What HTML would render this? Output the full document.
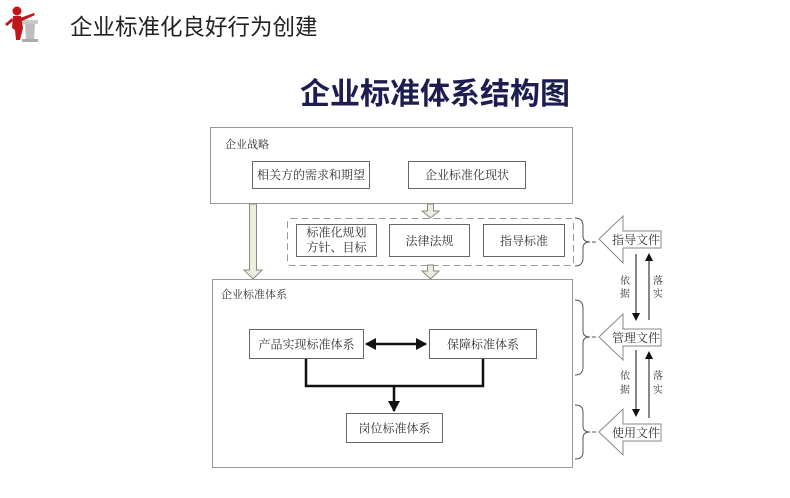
<!DOCTYPE html>
<html><head><meta charset="utf-8"><style>
html,body{margin:0;padding:0;background:#fff;}
svg{display:block;}
.s{font-family:"Noto Serif CJK SC","Liberation Serif",serif;fill:#333;}
</style></head><body>
<svg width="790" height="498" viewBox="0 0 790 498" xmlns="http://www.w3.org/2000/svg">
<defs>
<marker id="ah" markerWidth="8" markerHeight="8" refX="7" refY="4" orient="auto" markerUnits="userSpaceOnUse">
<path d="M0,0 L8,4 L0,8 Z" fill="#111"/></marker>
<marker id="tb" markerWidth="12" markerHeight="12" refX="10" refY="6" orient="auto-start-reverse" markerUnits="userSpaceOnUse">
<path d="M0,0 L11,6 L0,12 Z" fill="#111"/></marker>
</defs>

<!-- header icon -->
<g>
<rect x="22" y="20" width="16" height="4" fill="#c8c8c8"/>
<path d="M25,24 L35,24 L34,40 L26,40 Z" fill="#bdbdbd"/>
<rect x="22" y="39" width="16" height="3" fill="#aaa"/>
<circle cx="17" cy="11" r="4.5" fill="#c0161b"/>
<path d="M13,16 L21,16 L23,28 L20,40 L16,40 L15,30 L12,28 Z" fill="#c0161b"/>
<path d="M12,18 L5,24 L7,26 L13,21 Z" fill="#c0161b"/>
<path d="M20,18 L34,13 L35,15 L22,21 Z" fill="#c0161b"/>
</g>
<text x="70" y="35" font-family="'Liberation Sans','Noto Sans CJK SC',sans-serif" font-size="22.5" fill="#222">企业标准化良好行为创建</text>

<!-- main title -->
<text x="300" y="104" font-family="'Liberation Sans','Noto Sans CJK SC',sans-serif" font-size="30" font-weight="bold" fill="#1d1d52" textLength="270" lengthAdjust="spacingAndGlyphs">企业标准体系结构图</text>

<!-- 企业战略 box -->
<rect x="210.5" y="127.5" width="362" height="76" fill="#fff" stroke="#999" stroke-width="1"/>
<text class="s" x="225" y="148" font-size="11">企业战略</text>
<rect x="252.5" y="161.5" width="117" height="27" fill="#fff" stroke="#666"/>
<text class="s" x="311" y="179" font-size="12" text-anchor="middle">相关方的需求和期望</text>
<rect x="408.5" y="161.5" width="117" height="27" fill="#fff" stroke="#666"/>
<text class="s" x="467" y="179" font-size="12" text-anchor="middle">企业标准化现状</text>

<!-- gray block arrows -->
<path d="M249.5,204 L256.5,204 L256.5,270 L262,270 L253,279 L244,270 L249.5,270 Z" fill="#eceee0" stroke="#8a8a80"/>
<path d="M427.5,204 L433.5,204 L433.5,211 L439,211 L430.5,218 L422,211 L427.5,211 Z" fill="#eceee0" stroke="#8a8a80"/>
<path d="M427.5,265 L433.5,265 L433.5,271 L439,271 L430.5,279 L422,271 L427.5,271 Z" fill="#eceee0" stroke="#8a8a80"/>

<!-- dashed group -->
<rect x="287.5" y="218.5" width="286" height="47" rx="3" fill="none" stroke="#999" stroke-dasharray="7,4"/>
<rect x="296.5" y="224.5" width="80" height="32" fill="#fff" stroke="#666"/>
<text class="s" x="336.5" y="236.5" font-size="12" text-anchor="middle">标准化规划</text>
<text class="s" x="336.5" y="251.5" font-size="12" text-anchor="middle">方针、目标</text>
<rect x="389.5" y="224.5" width="80" height="32" fill="#fff" stroke="#666"/>
<text class="s" x="429.5" y="245" font-size="12" text-anchor="middle">法律法规</text>
<rect x="483.5" y="224.5" width="81" height="32" fill="#fff" stroke="#666"/>
<text class="s" x="524" y="245" font-size="12" text-anchor="middle">指导标准</text>

<!-- 企业标准体系 box -->
<rect x="212.5" y="279.5" width="360" height="188" fill="#fff" stroke="#999"/>
<text class="s" x="221" y="298" font-size="11">企业标准体系</text>
<rect x="249.5" y="329.5" width="114" height="29" fill="#fff" stroke="#666"/>
<text class="s" x="306.5" y="348.5" font-size="12" text-anchor="middle">产品实现标准体系</text>
<rect x="429.5" y="329.5" width="107" height="29" fill="#fff" stroke="#666"/>
<text class="s" x="483" y="348.5" font-size="12" text-anchor="middle">保障标准体系</text>
<rect x="346.5" y="413.5" width="96" height="29" fill="#fff" stroke="#666"/>
<text class="s" x="394.5" y="432.5" font-size="12" text-anchor="middle">岗位标准体系</text>

<line x1="366" y1="344" x2="426" y2="344" stroke="#111" stroke-width="2.5" marker-start="url(#tb)" marker-end="url(#tb)"/>
<path d="M306,359 L306,386 L483,386 L483,359" fill="none" stroke="#111" stroke-width="2.5"/>
<line x1="394" y1="386" x2="394" y2="411" stroke="#111" stroke-width="2.5" marker-end="url(#tb)"/>

<!-- braces -->
<g fill="none" stroke="#555" stroke-width="1">
<path d="M575,218 Q583,218 583,226 L583,236 Q583,242 590,242 Q583,242 583,248 L583,258 Q583,266 575,266"/>
<line x1="592" y1="242" x2="596" y2="242"/>
<path d="M575,300 Q583,300 583,308 L583,331 Q583,337 590,337 Q583,337 583,343 L583,367 Q583,375 575,375"/>
<line x1="592" y1="337" x2="596" y2="337"/>
<path d="M575,405 Q583,405 583,412 L583,426 Q583,432 590,432 Q583,432 583,438 L583,452 Q583,459 575,459"/>
<line x1="592" y1="432" x2="596" y2="432"/>
</g>

<!-- big left arrows -->
<g fill="#fff" stroke="#888" stroke-width="1">
<path d="M599,239 L623,216 L623,231 L661,231 L661,248 L623,248 L623,263 Z"/>
<path d="M599,337 L623,314 L623,329 L661,329 L661,346 L623,346 L623,360 Z"/>
<path d="M599,432 L623,409 L623,424 L661,424 L661,441 L623,441 L623,455 Z"/>
</g>
<text class="s" x="636" y="244" font-size="12" text-anchor="middle">指导文件</text>
<text class="s" x="636" y="342" font-size="12" text-anchor="middle">管理文件</text>
<text class="s" x="636" y="437" font-size="12" text-anchor="middle">使用文件</text>

<!-- thin arrows -->
<g stroke="#111" stroke-width="1">
<line x1="636" y1="254" x2="636" y2="320" marker-end="url(#ah)"/>
<line x1="649" y1="320" x2="649" y2="254" marker-end="url(#ah)"/>
<line x1="636" y1="350" x2="636" y2="416" marker-end="url(#ah)"/>
<line x1="649" y1="418" x2="649" y2="352" marker-end="url(#ah)"/>
</g>
<g class="s" font-size="10" text-anchor="middle">
<text x="625" y="284">依</text><text x="625" y="297">据</text>
<text x="658" y="284">落</text><text x="658" y="297">实</text>
<text x="625" y="379">依</text><text x="625" y="393">据</text>
<text x="658" y="379">落</text><text x="658" y="393">实</text>
</g>
</svg>
</body></html>
